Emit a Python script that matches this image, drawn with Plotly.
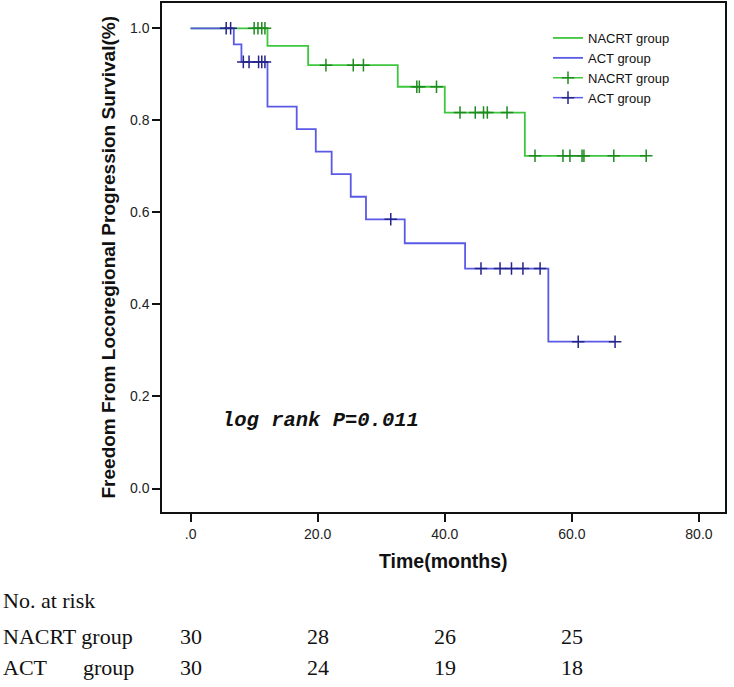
import plotly.graph_objects as go

# ---------------- data ----------------
nacrt_event_times = [12.1, 18.5, 32.6, 40.0, 52.6]
nacrt_survival = [0.962, 0.920, 0.873, 0.817, 0.723]
nacrt_censor_times = [10.0, 10.6, 11.2, 11.7, 21.3, 25.6, 27.2, 35.6, 36.0, 38.7,
                      42.4, 44.8, 46.1, 46.7, 49.8, 54.2, 58.6, 59.7, 61.6, 61.9,
                      66.6, 71.7]

act_event_times = [6.8, 8.0, 12.1, 16.7, 19.7, 22.2, 25.2, 27.6, 33.7, 43.2, 56.3]
act_survival = [0.965, 0.927, 0.830, 0.781, 0.732, 0.683, 0.634, 0.585, 0.533,
                0.478, 0.319]
act_censor_times = [5.6, 6.3, 8.3, 9.2, 10.7, 11.2, 11.7, 31.5, 45.7, 48.7, 50.5,
                    52.3, 55.0, 61.0, 66.8]

risk_times = [0, 20, 40, 60]
nacrt_at_risk = [30, 28, 26, 25]
act_at_risk = [30, 24, 19, 18]

x_tickvals = [0, 20, 40, 60, 80]
x_ticktext = [".0", "20.0", "40.0", "60.0", "80.0"]
y_tickvals = [0.0, 0.2, 0.4, 0.6, 0.8, 1.0]

GREEN = "#3ec63e"
GREEN_DARK = "#1f8a1f"
BLUE = "#5a5ae6"
BLUE_DARK = "#24248a"


def step_xy(event_times, survival, censor_times):
    end = max(censor_times + event_times)
    xs = [0] + list(event_times) + [end]
    ys = [1.0] + list(survival) + [survival[-1]]
    return xs, ys


def survival_at(t, event_times, survival):
    s = 1.0
    for e, v in zip(event_times, survival):
        if e <= t:
            s = v
    return s


def censor_xy(censor_times, event_times, survival):
    xs, ys = [], []
    for t in censor_times:
        xs += [t, None]
        ys += [survival_at(t, event_times, survival), None]
    return xs, ys


fig = go.Figure()

gx, gy = step_xy(nacrt_event_times, nacrt_survival, nacrt_censor_times)
bx, by = step_xy(act_event_times, act_survival, act_censor_times)
fig.add_trace(go.Scatter(x=gx, y=gy, mode="lines", line=dict(shape="hv", color=GREEN, width=1.8),
                         name="NACRT group"))
fig.add_trace(go.Scatter(x=bx, y=by, mode="lines", line=dict(shape="hv", color=BLUE, width=1.8),
                         name="ACT group"))

gcx, gcy = censor_xy(nacrt_censor_times, nacrt_event_times, nacrt_survival)
bcx, bcy = censor_xy(act_censor_times, act_event_times, act_survival)
fig.add_trace(go.Scatter(x=gcx, y=gcy, mode="lines+markers", connectgaps=False,
                         line=dict(color=GREEN, width=1.5),
                         marker=dict(symbol="cross-thin", size=9,
                                     line=dict(color=GREEN_DARK, width=1.5)),
                         name="NACRT group"))
fig.add_trace(go.Scatter(x=bcx, y=bcy, mode="lines+markers", connectgaps=False,
                         line=dict(color=BLUE, width=1.5),
                         marker=dict(symbol="cross-thin", size=9,
                                     line=dict(color=BLUE_DARK, width=1.5)),
                         name="ACT group"))

# plot area pixel geometry
L, R, T, B = 162, 725, 3, 512
W, H = 734, 687


def px_x(p):
    return (p - L) / (R - L)


def px_y(p):
    return (B - p) / (B - T)


annotations = []
annotations.append(dict(text="<b><i>log rank P=0.011</i></b>", x=20.4, y=0.148, xref="x", yref="y",
                        xanchor="center", yanchor="middle",
                        showarrow=False, font=dict(family="Liberation Mono", size=20.5, color="#111")))
annotations.append(dict(text="<b>Time(months)</b>", x=0.5, y=px_y(561), xref="paper", yref="paper",
                        xanchor="center", yanchor="middle",
                        showarrow=False, font=dict(family="Liberation Sans", size=19.5, color="#111")))
annotations.append(dict(text="<b>Freedom From Locoregional Progression Survival(%)</b>",
                        x=px_x(108), y=0.5, xref="paper", yref="paper", textangle=-90,
                        xanchor="center", yanchor="middle",
                        showarrow=False, font=dict(family="Liberation Sans", size=19, color="#111")))

serif = dict(family="Liberation Serif", size=22, color="#111")


def table_text(text, xpix, ypix):
    return dict(text=text, x=px_x(xpix), y=px_y(ypix), xref="paper", yref="paper",
                xanchor="left", yanchor="middle", showarrow=False, font=serif)


annotations.append(table_text("No. at risk", 1, 600))
annotations.append(table_text("NACRT group", 1, 637))
annotations.append(table_text("ACT", 1, 667))
annotations.append(table_text("group", 81, 667))
for t, n1, n2 in zip(risk_times, nacrt_at_risk, act_at_risk):
    annotations.append(dict(text=str(n1), x=t, y=px_y(637), xref="x", yref="paper",
                            xanchor="center", yanchor="middle", showarrow=False, font=serif))
    annotations.append(dict(text=str(n2), x=t, y=px_y(667), xref="x", yref="paper",
                            xanchor="center", yanchor="middle", showarrow=False, font=serif))

fig.update_layout(
    width=W, height=H,
    margin=dict(l=L, r=W - R, t=T, b=H - B, autoexpand=False),
    paper_bgcolor="white", plot_bgcolor="white",
    showlegend=True,
    legend=dict(x=px_x(548), y=px_y(23), xanchor="left", yanchor="top",
                bgcolor="rgba(0,0,0,0)", tracegroupgap=0,
                font=dict(family="Liberation Sans", size=13, color="#111")),
    annotations=annotations,
    xaxis=dict(range=[-4.5, 84.1], tickvals=x_tickvals, ticktext=x_ticktext,
               showgrid=False, zeroline=False, showline=True, mirror=True,
               linecolor="#111", linewidth=1.5, ticks="outside", ticklen=8,
               tickcolor="#111", tickwidth=1.5,
               tickfont=dict(family="Liberation Sans", size=14, color="#222")),
    yaxis=dict(range=[-0.051, 1.055], tickvals=y_tickvals, tickformat=".1f",
               showgrid=False, zeroline=False, showline=True, mirror=True,
               linecolor="#111", linewidth=1.5, ticks="outside", ticklen=8,
               tickcolor="#111", tickwidth=1.5,
               tickfont=dict(family="Liberation Sans", size=14, color="#222")),
)

fig.write_html("out.html", config={"displayModeBar": False},
               post_script="document.body.style.margin='0px';")
